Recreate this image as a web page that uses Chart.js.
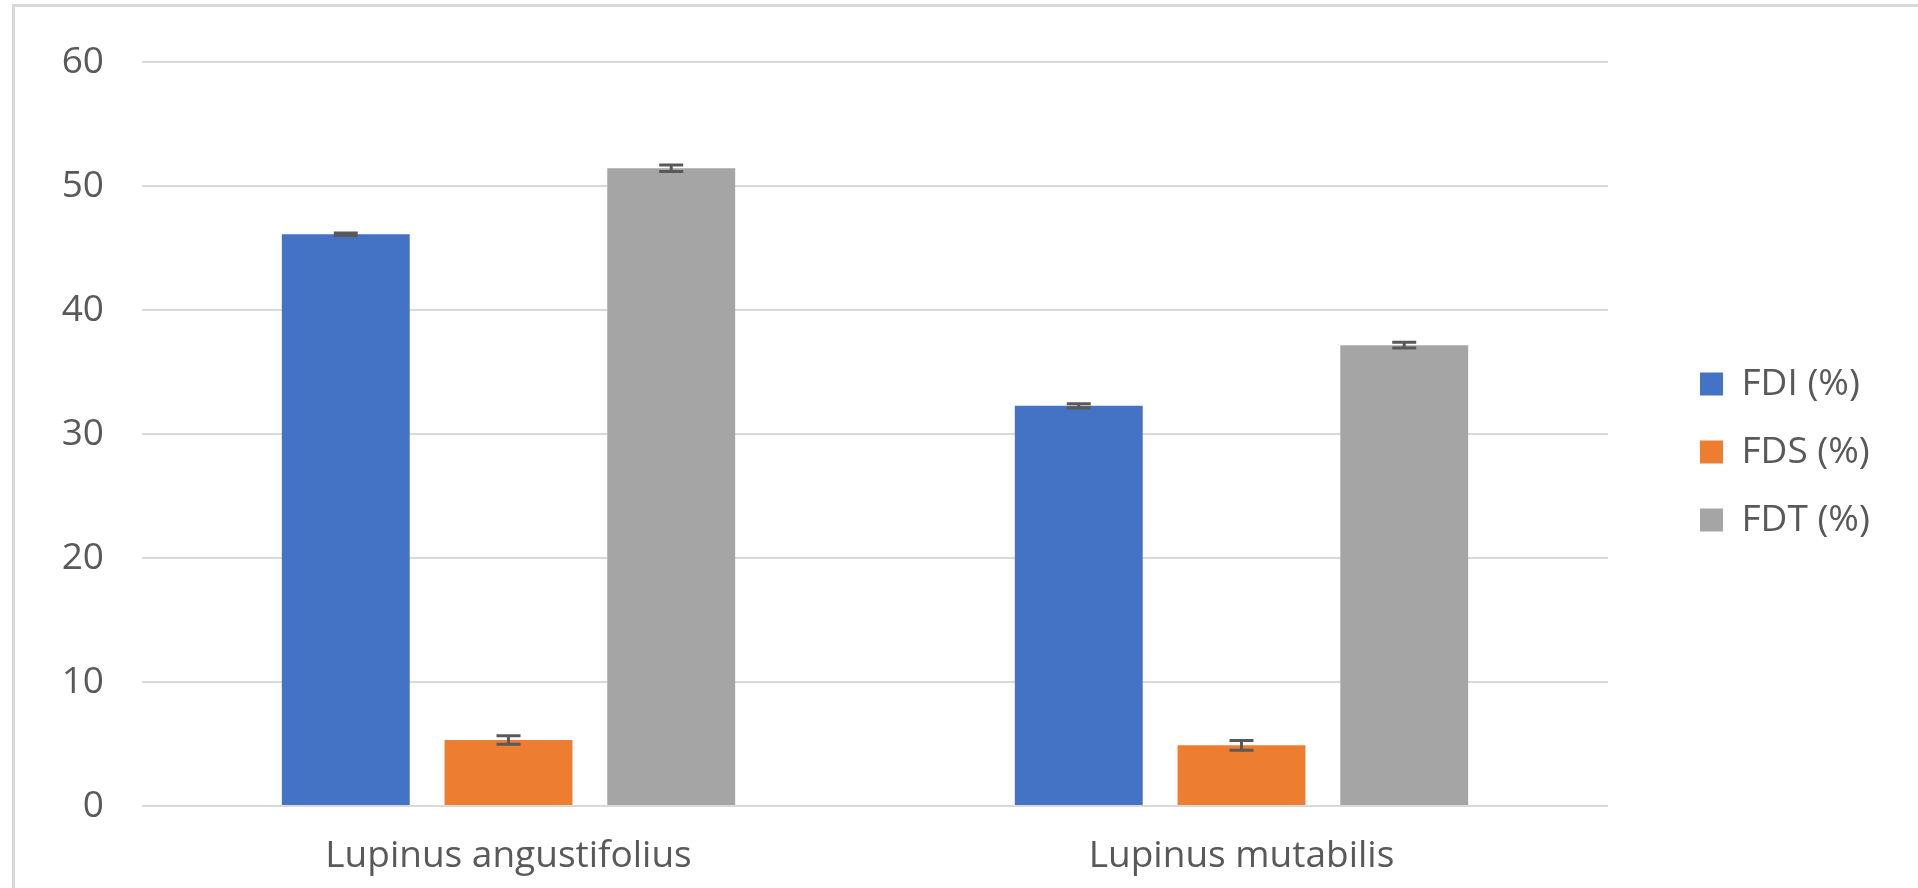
<!DOCTYPE html>
<html>
<head>
<meta charset="utf-8">
<script src="https://cdn.jsdelivr.net/npm/chart.js@4.4.1/dist/chart.umd.min.js"></script>
<style>
  html, body { margin: 0; padding: 0; background: #ffffff; overflow: hidden; }
  #frame { position: absolute; left: 12px; top: 4px; width: 1920px; height: 900px;
           border-left: 3px solid #D9D9D9; border-top: 3px solid #D9D9D9; box-sizing: border-box; }
  #wrap { position: absolute; left: 0; top: 0; width: 1918px; height: 888px; }
</style>
</head>
<body>
<div id="frame"></div>
<div id="wrap"><canvas id="c" width="1918" height="888"></canvas></div>
<script>
const categories = ['Lupinus angustifolius', 'Lupinus mutabilis'];
const seriesNames = ['FDI (%)', 'FDS (%)', 'FDT (%)'];
const fdiValues = [46.1, 32.27];
const fdsValues = [5.32, 4.89];
const fdtValues = [51.43, 37.16];
const fdiErrors = [0.1, 0.17];
const fdsErrors = [0.34, 0.39];
const fdtErrors = [0.26, 0.23];
const yTicks = [0, 10, 20, 30, 40, 50, 60];

const FONT = { family: '"Open Sans", "Noto Sans", sans-serif', size: 37 };
const TEXT = '#595959';

const errorBars = {
  id: 'errorBars',
  afterDatasetsDraw(chart) {
    const ctx = chart.ctx;
    const y = chart.scales.y;
    ctx.save();
    ctx.strokeStyle = '#595959';
    ctx.lineWidth = 3;
    chart.data.datasets.forEach((ds, di) => {
      const meta = chart.getDatasetMeta(di);
      meta.data.forEach((bar, i) => {
        const v = ds.data[i], e = ds.errors[i];
        const top = y.getPixelForValue(v + e);
        const bot = y.getPixelForValue(v - e);
        const x = bar.x, hw = 12;
        ctx.beginPath();
        ctx.moveTo(x, top); ctx.lineTo(x, bot);
        ctx.moveTo(x - hw, top); ctx.lineTo(x + hw, top);
        ctx.moveTo(x - hw, bot); ctx.lineTo(x + hw, bot);
        ctx.stroke();
      });
    });
    ctx.restore();
  }
};

const LEGEND_PAD = 31;
const legendTweak = {
  id: 'legendTweak',
  afterInit(chart) {
    const lg = chart.legend;
    const orig = lg.fit;
    lg.fit = function () { orig.call(this); this.width = 1918 - 1608; };
  },
  afterLayout(chart) {
    const lg = chart.legend;
    const dx = 1700 - LEGEND_PAD - lg.left;
    lg.left += dx; lg.right += dx;
    const dy = -23;
    lg.top += dy; lg.bottom += dy;
  }
};

new Chart(document.getElementById('c'), {
  type: 'bar',
  data: {
    labels: categories,
    datasets: [
      { label: seriesNames[0], data: fdiValues, errors: fdiErrors, backgroundColor: '#4472C4' },
      { label: seriesNames[1], data: fdsValues, errors: fdsErrors, backgroundColor: '#ED7D31' },
      { label: seriesNames[2], data: fdtValues, errors: fdtErrors, backgroundColor: '#A5A5A5' }
    ]
  },
  plugins: [errorBars, legendTweak],
  options: {
    responsive: false,
    animation: false,
    devicePixelRatio: 1,
    layout: { padding: { top: 62, left: 0, right: 0, bottom: 0 } },
    datasets: { bar: { categoryPercentage: 0.666, barPercentage: 0.786 } },
    plugins: {
      tooltip: { enabled: false },
      legend: {
        position: 'right',
        labels: { boxWidth: 23, boxHeight: 23, padding: LEGEND_PAD, color: TEXT, font: FONT }
      }
    },
    scales: {
      x: {
        grid: { display: false },
        border: { display: false },
        ticks: { color: TEXT, font: FONT, padding: 20 },
        afterFit(s) { s.height = 888 - 806; }
      },
      y: {
        min: 0, max: 60,
        afterBuildTicks(s) { s.ticks = yTicks.map(v => ({ value: v })); },
        grid: { color: '#D9D9D9', lineWidth: 2, drawTicks: false },
        border: { display: false },
        ticks: { color: TEXT, font: FONT, padding: 38 },
        afterFit(s) { s.width = 142; }
      }
    }
  }
});
</script>
</body>
</html>
